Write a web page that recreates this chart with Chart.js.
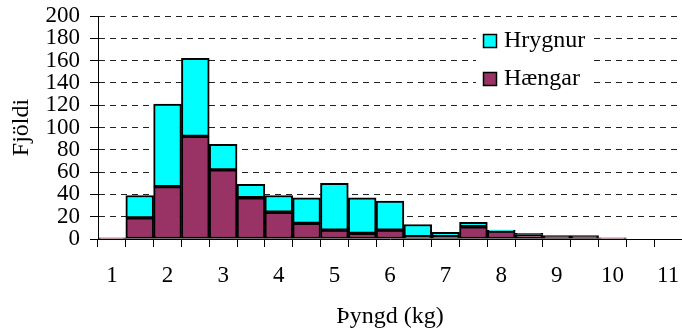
<!DOCTYPE html>
<html>
<head>
<meta charset="utf-8">
<script src="https://cdn.jsdelivr.net/npm/chart.js@4/dist/chart.umd.min.js"></script>
<style>
  html, body { margin: 0; padding: 0; background: #fff; }
  canvas { display: block; }
</style>
</head>
<body>
<canvas id="c" width="682" height="331"></canvas>
<script>
// Weight classes (kg)
const categories = [1, 1.5, 2, 2.5, 3, 3.5, 4, 4.5, 5, 5.5, 6, 6.5, 7, 7.5, 8, 8.5, 9, 9.5, 10, 10.5, 11];
// Males (Hængar)
const haengar = [1, 19, 47, 92, 62, 37, 24, 14, 8, 5, 8, 2, 2, 11, 7, 4, 3, 3, 1, 0, 0];
// Females (Hrygnur), stacked on top
const hrygnur = [0, 20, 74, 70, 23, 12, 15, 23, 42, 32, 26, 11, 4, 4, 1, 1, 0, 0, 0, 0, 0];
const seriesNames = ['Hængar', 'Hrygnur'];
const yTicks = [0, 20, 40, 60, 80, 100, 120, 140, 160, 180, 200];
const xTitle = 'Þyngd (kg)';
const yTitle = 'Fjöldi';

const FONT = 'Liberation Serif';
const cMaroon = '#993366';
const cCyan = '#00FFFF';

const legendPlugin = {
  id: 'insideLegend',
  afterDraw(chart) {
    const ctx = chart.ctx;
    ctx.save();
    ctx.fillStyle = '#fff';
    ctx.fillRect(476, 24, 116, 73);
    const items = [
      { name: seriesNames[1], color: cCyan, y: 41 },
      { name: seriesNames[0], color: cMaroon, y: 79 }
    ];
    ctx.font = '24px "' + FONT + '"';
    ctx.textBaseline = 'middle';
    ctx.textAlign = 'left';
    items.forEach(it => {
      ctx.fillStyle = it.color;
      ctx.fillRect(483.5, it.y - 6.5, 13, 13);
      ctx.lineWidth = 1.5;
      ctx.strokeStyle = '#000';
      ctx.strokeRect(483.5, it.y - 6.5, 13, 13);
      ctx.fillStyle = '#000';
      ctx.fillText(it.name, 504, it.y);
    });
    ctx.restore();
  }
};

new Chart(document.getElementById('c'), {
  type: 'bar',
  data: {
    labels: categories,
    datasets: [
      { label: seriesNames[0], data: haengar, backgroundColor: cMaroon, borderColor: '#000', borderWidth: 2, borderSkipped: false },
      { label: seriesNames[1], data: hrygnur, backgroundColor: cCyan, borderColor: '#000', borderWidth: 2, borderSkipped: false }
    ]
  },
  options: {
    responsive: false,
    animation: false,
    devicePixelRatio: 1,
    layout: { padding: { top: 16, right: 0, left: 0, bottom: 0 } },
    datasets: { bar: { categoryPercentage: 1.0, barPercentage: 1.0 } },
    plugins: { legend: { display: false }, tooltip: { enabled: false } },
    scales: {
      x: {
        stacked: true,
        offset: true,
        afterFit(s) { s.height = 92; s.paddingLeft = 0; s.paddingRight = 0; },
        grid: { offset: true, drawOnChartArea: false, drawTicks: true, tickLength: 8, tickColor: '#000', color: '#000' },
        border: { display: true, color: '#000', width: 1 },
        ticks: {
          autoSkip: false, maxRotation: 0, minRotation: 0, padding: 15,
          color: '#000', font: { family: FONT, size: 23 },
          callback(v, i) { return i % 2 === 0 ? String(categories[i]) : ''; }
        },
        title: { display: true, text: xTitle, color: '#000', font: { family: FONT, size: 24 }, padding: { top: 0, bottom: 0 } }
      },
      y: {
        stacked: true,
        min: 0, max: 200,
        afterFit(s) { s.width = 98; s.paddingTop = 0; s.paddingBottom = 0; },
        afterBuildTicks(s) { s.ticks = yTicks.map(v => ({ value: v })); },
        grid: {
          drawTicks: true, tickLength: 8, tickColor: '#000', tickBorderDash: [],
          color: ctx => (ctx.tick && ctx.tick.value === 0) ? 'rgba(0,0,0,0)' : '#222',
          lineWidth: 1
        },
        border: { display: true, color: '#000', width: 1, dash: [6, 5] },
        ticks: { autoSkip: false, padding: 10, color: '#000', font: { family: FONT, size: 23 } },
        title: { display: true, text: yTitle, color: '#000', font: { family: FONT, size: 24 }, padding: { top: 7, bottom: 0 } }
      }
    }
  },
  plugins: [legendPlugin]
});
</script>
</body>
</html>
